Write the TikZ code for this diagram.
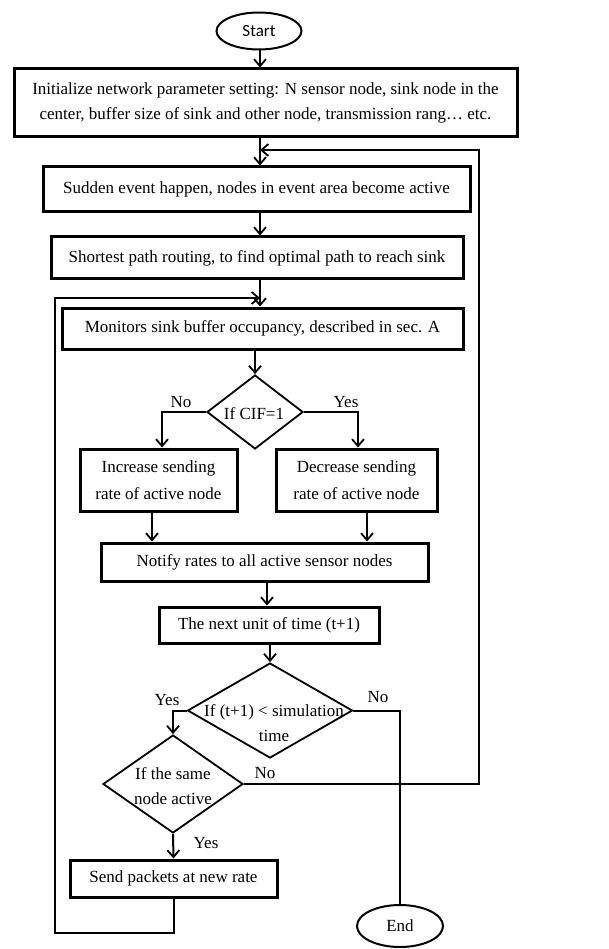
\documentclass[tikz,border=0pt]{standalone}
\usepackage{fontspec}
\setmainfont{Liberation Serif}
\newfontfamily\calib{Carlito}
\usetikzlibrary{shapes.geometric,arrows.meta}
\begin{document}
\begin{tikzpicture}[x=1pt,y=-1pt,
  font=\fontsize{17}{25}\selectfont,
  boxst/.style={draw,line width=3pt,rectangle,inner sep=0pt,align=center},
  dia/.style={draw,line width=1.8pt,diamond,inner sep=0pt},
  ovl/.style={draw,line width=2pt,ellipse,inner sep=0pt},
  ln/.style={line width=2pt},
  arr/.style={line width=2pt,-{Straight Barb[length=7pt,width=12pt,line width=1.8pt]}},
  lbl/.style={inner sep=0pt}]
\useasboundingbox (0,0) rectangle (608,949);
\node[ovl,minimum width=85,minimum height=37,font=\calib\fontsize{17}{20}\selectfont] (start) at (259,31) {Start};
\node[boxst,minimum width=503,minimum height=68] (init) at (265.5,103) {Initialize network parameter setting: N sensor node, sink node in the\\center, buffer size of sink and other node, transmission rang\ldots\ etc.};
\node[boxst,minimum width=427,minimum height=45] (sudden) at (256.5,189.5) {Sudden event happen, nodes in event area become active};
\node[boxst,minimum width=412,minimum height=42] (short) at (257,258) {Shortest path routing, to find optimal path to reach sink};
\node[boxst,minimum width=401,minimum height=41] (mon) at (262.5,328.5) {Monitors sink buffer occupancy, described in sec. A};
\node[dia,minimum width=96,minimum height=74] (cif) at (255,412) {};
\node[lbl] (ciftxt) at (254,414) {If CIF=1};
\node[boxst,minimum width=157,minimum height=62,font=\fontsize{17}{27}\selectfont] (inc) at (158.5,480) {Increase sending\\rate of active node};
\node[boxst,minimum width=161,minimum height=62,font=\fontsize{17}{27}\selectfont] (dec) at (356.5,480) {Decrease sending\\rate of active node};
\node[boxst,minimum width=327,minimum height=38] (notify) at (264.5,562) {Notify rates to all active sensor nodes};
\node[boxst,minimum width=220,minimum height=36] (next) at (269,625) {The next unit of time (t+1)};
\node[dia,minimum width=165,minimum height=95] (sim) at (270,710.5) {};
\node[lbl,align=center] (simtxt) at (274,723) {If (t+1) < simulation\\time};
\node[dia,minimum width=140,minimum height=98] (same) at (173,784) {};
\node[lbl,align=center] (sametxt) at (173,786) {If the same\\node active};
\node[boxst,minimum width=207,minimum height=37] (send) at (173.5,878.5) {Send packets at new rate};
\node[ovl,minimum width=86,minimum height=42] (end) at (400,926) {End};
\coordinate (spine) at (260,0);
\coordinate (fbx) at (479,0);
\coordinate (fby) at (0,150);
\coordinate (lpx) at (55,0);
\coordinate (lpy) at (0,298);
\coordinate (lpb) at (0,933);
% connectors
\draw[arr] (start.south -| spine) -- (init.north -| spine);
\draw[arr] (init.south -| spine) -- (sudden.north -| spine);
\draw[arr] (sudden.south -| spine) -- (short.north -| spine);
\draw[arr] (short.south -| spine) -- (mon.north -| spine);
\draw[arr] (mon.south -| cif) -- (cif.north);
\draw[arr] (cif.west) -| ([xshift=3.5pt]inc.north);
\draw[arr] (cif.east) -| ([xshift=1.5pt]dec.north);
\draw[arr] ([xshift=-6.5pt]inc.south) -- ([xshift=-6.5pt]inc.south |- notify.north);
\draw[arr] ([xshift=10.5pt]dec.south) -- ([xshift=10.5pt]dec.south |- notify.north);
\draw[arr] (notify.south -| 267,0) -- (next.north -| 267,0);
\draw[arr] (next.south -| sim) -- (sim.north);
\draw[arr] (sim.west) -| (same.north);
\draw[ln] (sim.east) -| (end.north);
\draw[arr] (same.south) -- (send.north);
\draw[arr] (same.east) -| (fbx |- fby) -- (spine |- fby);
\draw[arr] (send.south) -- (send.south |- lpb) -- (lpx |- lpb) -- (lpx |- lpy) -- (spine |- lpy);
% labels
\node[lbl] (l1) at (181,402) {No};
\node[lbl] (l2) at (346,402) {Yes};
\node[lbl] (l3) at (167,700) {Yes};
\node[lbl] (l4) at (378,697) {No};
\node[lbl] (l5) at (265,773) {No};
\node[lbl] (l6) at (206,843) {Yes};
\end{tikzpicture}
\end{document}
